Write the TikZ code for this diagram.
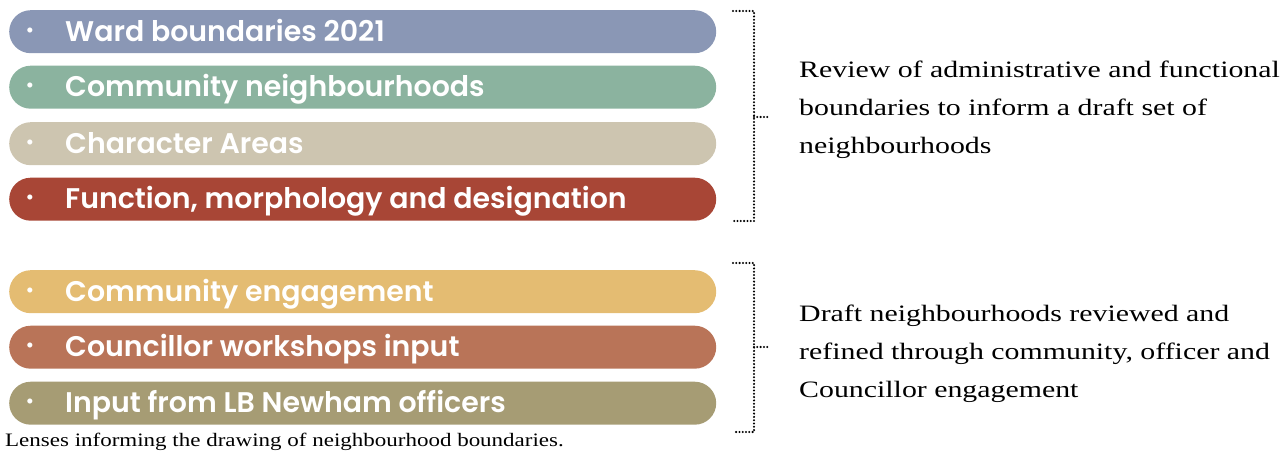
\documentclass[tikz,border=0pt]{standalone}
\usepackage{fontspec}
\setmainfont{Liberation Serif}
\newfontfamily\descfont{Liberation Serif}[FakeStretch=1.27]
\newfontfamily\capfont{Liberation Serif}[FakeStretch=1.21]
\newfontfamily\barfont{Poppins}[UprightFont=* SemiBold]
\definecolor{cA}{HTML}{8A97B5}
\definecolor{cB}{HTML}{8BB39F}
\definecolor{cC}{HTML}{CDC5B0}
\definecolor{cD}{HTML}{A84636}
\definecolor{cE}{HTML}{E4BC72}
\definecolor{cF}{HTML}{B97458}
\definecolor{cG}{HTML}{A69C74}
\tikzset{
  bar/.style={draw=none, fill=#1, minimum width=707pt, minimum height=43pt, rounded corners=21.5pt, inner sep=0pt, anchor=north west},
  bartext/.style={anchor=base west, text=white, font=\barfont\fontsize{28.4}{30}\selectfont, inner sep=0pt},
  bul/.style={anchor=center, text=white, font=\barfont\fontsize{18}{20}\selectfont, inner sep=0pt},
  brk/.style={line width=2.3pt, dash pattern=on 0pt off 3.3pt, line cap=round},
  desc/.style={anchor=base west, align=left, inner sep=0pt, font=\descfont\fontsize{23.5}{38}\selectfont},
}
\begin{document}
\begin{tikzpicture}[x=1pt,y=-1pt]
\useasboundingbox (0,0) rectangle (1288,450);
\foreach \n/\c/\t/\s in {1/cA/10/Ward boundaries 2021, 2/cB/65.5/Community neighbourhoods, 3/cC/122/Character Areas, 4/cD/177.5/{Function, morphology and designation}, 5/cE/270/Community engagement, 6/cF/325.5/Councillor workshops input, 7/cG/381.5/Input from LB Newham officers}{
  \node[bar=\c] (b\n) at (9,\t) {};
  \node[bul] (u\n) at (30,\t+22) {•};
  \node[bartext] (l\n) at (65,\t+31) {\s};
}
% bracket 1
\coordinate (a1) at (733,11);
\coordinate (a2) at (754,11);
\coordinate (a3) at (754,221);
\coordinate (a4) at (733,221);
\coordinate (am) at (754,117);
\coordinate (at) at (770,117);
\draw[brk] (a1) -- (a2) -- (a3) -- (a4);
\draw[brk] (am) -- (at);
% bracket 2
\coordinate (d1) at (733,263);
\coordinate (d2) at (754,263);
\coordinate (d3) at (754,432);
\coordinate (d4) at (733,432);
\coordinate (dm) at (754,347);
\coordinate (dt) at (770,347);
\draw[brk] (d1) -- (d2) -- (d3) -- (d4);
\draw[brk] (dm) -- (dt);
\node[desc] (r1) at (799,153) {Review of administrative and functional\\boundaries to inform a draft set of\\neighbourhoods};
\node[desc] (r2) at (799,397) {Draft neighbourhoods reviewed and\\refined through community, officer and\\Councillor engagement};
\node[anchor=base west, inner sep=0pt, font=\capfont\fontsize{19}{22}\selectfont] (cap) at (5,446) {Lenses informing the drawing of neighbourhood boundaries.};
\end{tikzpicture}
\end{document}
